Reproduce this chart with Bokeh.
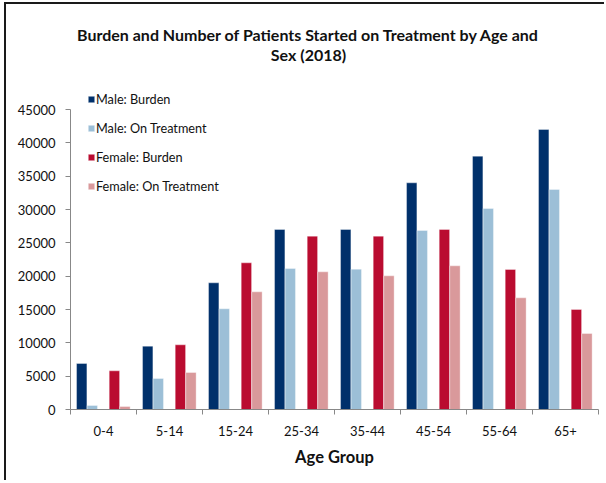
import numpy as np
from bokeh.plotting import figure
from bokeh.models import (Range1d, FixedTicker, Legend, LegendItem, Label, ColumnDataSource)
from bokeh.embed import file_html
from bokeh.resources import INLINE

categories = ["0-4", "5-14", "15-24", "25-34", "35-44", "45-54", "55-64", "65+"]
male_burden = [6900, 9500, 19000, 27000, 27000, 34000, 38000, 42000]
male_treatment = [600, 4650, 15100, 21150, 21050, 26850, 30150, 33000]
female_burden = [5800, 9700, 22000, 26000, 26000, 27000, 21000, 15000]
female_treatment = [450, 5550, 17650, 20650, 20050, 21550, 16750, 11400]
series_names = ["Male: Burden", "Male: On Treatment", "Female: Burden", "Female: On Treatment"]
colors = ["#00306B", "#9CBFD7", "#BA0C30", "#D9999B"]
offsets = [0.17, 0.33, 0.665, 0.825]
bar_w = 0.157
title_lines = ["Burden and Number of Patients Started on Treatment by Age and", "Sex (2018)"]

FONT = "Lato"

p = figure(width=600, height=478, output_backend="svg", toolbar_location=None,
           x_range=Range1d(0, 8), y_range=Range1d(0, 58500),
           min_border_left=64, min_border_right=8, min_border_top=15, min_border_bottom=73,
           styles={"border-left": "2px solid #1a1a1a", "border-top": "2px solid #1a1a1a",
                   "margin-left": "4px", "margin-top": "2px"})
p.outline_line_color = None
p.xgrid.visible = False
p.ygrid.visible = False

idx = np.arange(len(categories))
items = []
for vals, name, col, off in zip([male_burden, male_treatment, female_burden, female_treatment],
                                series_names, colors, offsets):
    src = ColumnDataSource(dict(x=idx + off, top=vals))
    r = p.vbar(x="x", top="top", width=bar_w, source=src, fill_color=col,
               line_color="white", line_width=0.6, line_alpha=0.6)
    items.append(LegendItem(label=name, renderers=[r]))

legend = Legend(items=items, location=(17, 213), orientation="vertical",
                glyph_width=8, glyph_height=8, label_height=20, spacing=9,
                label_standoff=1, padding=0, margin=0,
                label_text_font=FONT, label_text_font_size="12.7px",
                label_text_color="#111111",
                background_fill_alpha=0, border_line_color=None)
p.add_layout(legend)

# title as two centred lines
for txt, yv in zip(title_lines, [56250, 53250]):
    p.add_layout(Label(x=3.606, y=yv, text=txt, text_align="center", text_baseline="middle",
                       text_font=FONT, text_font_size="16px", text_font_style="bold",
                       text_color="#111111"))

# x axis
xa = p.xaxis[0]
xa.ticker = FixedTicker(ticks=list(idx + 0.5), minor_ticks=list(range(len(categories) + 1)))
xa.major_label_overrides = {float(i + 0.5): c for i, c in enumerate(categories)}
xa.major_tick_out = 0
xa.major_tick_in = 0
xa.minor_tick_out = 5
xa.minor_tick_in = 0
xa.minor_tick_line_color = "#888888"
xa.axis_line_color = "#888888"
xa.major_label_text_font = FONT
xa.major_label_text_font_size = "13px"
xa.major_label_text_color = "#111111"
xa.major_label_standoff = 11
xa.axis_label = "Age Group"
xa.axis_label_text_font = FONT
xa.axis_label_text_font_size = "16.5px"
xa.axis_label_text_font_style = "bold"
xa.axis_label_text_color = "#111111"
xa.axis_label_standoff = 8

ya = p.yaxis[0]
ya.ticker = FixedTicker(ticks=list(range(0, 45001, 5000)), minor_ticks=[])
ya.bounds = (0, 45000)
ya.major_tick_out = 5
ya.major_tick_in = 0
ya.major_tick_line_color = "#888888"
ya.axis_line_color = "#888888"
ya.minor_tick_line_color = None
ya.major_label_text_font = FONT
ya.major_label_text_font_size = "13px"
ya.major_label_text_color = "#111111"
ya.major_label_standoff = 10

open("out.html", "w").write(file_html(p, INLINE))
